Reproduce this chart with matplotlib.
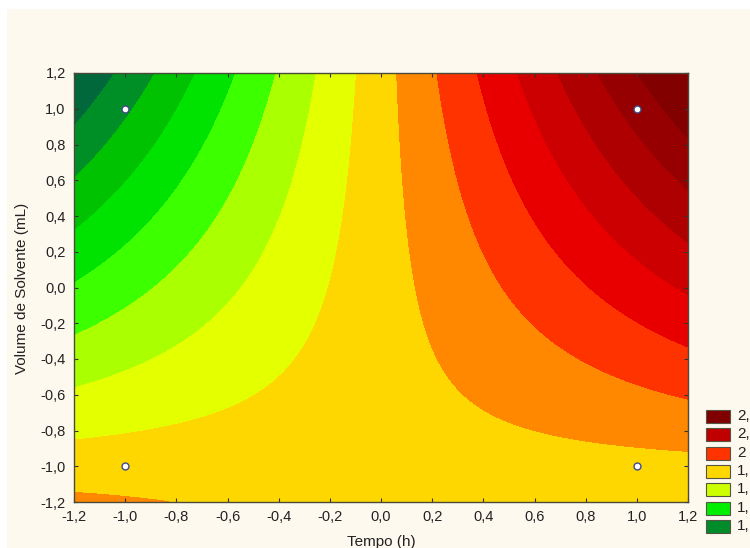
import numpy as np
import matplotlib
matplotlib.use("Agg")
import matplotlib.pyplot as plt
from matplotlib.patches import Rectangle

plt.rcParams['font.family'] = ['Liberation Sans', 'DejaVu Sans']

# design points (coded) and measured response
x_design = [-1.0, 1.0, -1.0, 1.0]
y_design = [1.0, 1.0, -1.0, -1.0]
z_design = [1.281, 2.439, 1.851, 1.869]

# contour levels and fill colours (low -> high)
levels = [1.0, 1.2, 1.3, 1.4, 1.5, 1.6, 1.7, 1.8, 1.9, 2.0, 2.1, 2.2, 2.3, 2.4, 2.5, 2.8]
fill_colors = ['#00683a', '#008f26', '#00c200', '#00e200', '#3cff00', '#aaff00',
               '#e4ff00', '#ffd700', '#ff8800', '#ff3300', '#e80000', '#cc0000',
               '#ae0000', '#960000', '#820000']

# legend as seen (labels cut by the picture edge)
legend_colors = ['#800000', '#c00000', '#ff3300', '#ffd700', '#ccff00', '#00ee00', '#008c2a']
legend_labels = ['2,', '2,', '2', '1,', '1,', '1,', '1,']

ticks = [-1.2, -1.0, -0.8, -0.6, -0.4, -0.2, 0.0, 0.2, 0.4, 0.6, 0.8, 1.0, 1.2]
tick_labels = ['-1,2', '-1,0', '-0,8', '-0,6', '-0,4', '-0,2', '0,0',
               '0,2', '0,4', '0,6', '0,8', '1,0', '1,2']

# fit z = b0 + b1 x + b2 y + b12 x y
xd = np.array(x_design)
yd = np.array(y_design)
A = np.column_stack([np.ones_like(xd), xd, yd, xd * yd])
coef = np.linalg.lstsq(A, np.array(z_design), rcond=None)[0]

gx = np.linspace(-1.2, 1.2, 300)
gy = np.linspace(-1.2, 1.2, 300)
X, Y = np.meshgrid(gx, gy)
Z = coef[0] + coef[1] * X + coef[2] * Y + coef[3] * X * Y

W, H = 750, 548
fig = plt.figure(figsize=(7.5, 5.48), dpi=100, facecolor='white')
fig.patches.append(Rectangle((7 / W, 0), 1, 1 - 9 / H, transform=fig.transFigure,
                             facecolor='#fdf9ef', edgecolor='none', zorder=-10))

ax = fig.add_axes([74 / W, 1 - 502 / H, (688 - 74) / W, (502 - 73) / H])
cs = ax.contourf(X, Y, Z, levels=levels, colors=fill_colors)
cs.set_edgecolor('face')
cs.set_linewidth(0.6)
ax.plot(x_design, y_design, 'o', markersize=5, markerfacecolor='white',
        markeredgecolor='#404a8a', markeredgewidth=1.0)

ax.set_xlim(-1.2, 1.2)
ax.set_ylim(-1.2, 1.2)
ax.set_xticks(ticks, labels=tick_labels)
ax.set_yticks(ticks, labels=tick_labels)
ax.tick_params(axis='both', direction='in', length=3, width=0.8, labelsize=10.5,
               top=True, right=True, colors='#333333', labelcolor='#222222', pad=6)
for s in ax.spines.values():
    s.set_color('#4a4a3a')
    s.set_linewidth(1.0)

fig.text(22 / W, 1 - 288 / H, 'Volume de Solvente (mL)', rotation=90,
         ha='center', va='center', fontsize=11, color='#222222')
fig.text(381 / W, 1 - 546 / H, 'Tempo (h)', ha='center', va='baseline',
         fontsize=11, color='#222222')

# legend boxes
row_y = [416, 434, 453, 471, 489, 508, 526]
for c, lab, yc in zip(legend_colors, legend_labels, row_y):
    fig.patches.append(Rectangle((706 / W, 1 - (yc + 6.5) / H), 24 / W, 13 / H,
                                 transform=fig.transFigure, facecolor=c,
                                 edgecolor='#555544', linewidth=0.8))
    fig.text(737 / W, 1 - yc / H, lab, ha='left', va='center', fontsize=11,
             color='#222222')

plt.savefig('out.png', dpi=100, facecolor=fig.get_facecolor())
